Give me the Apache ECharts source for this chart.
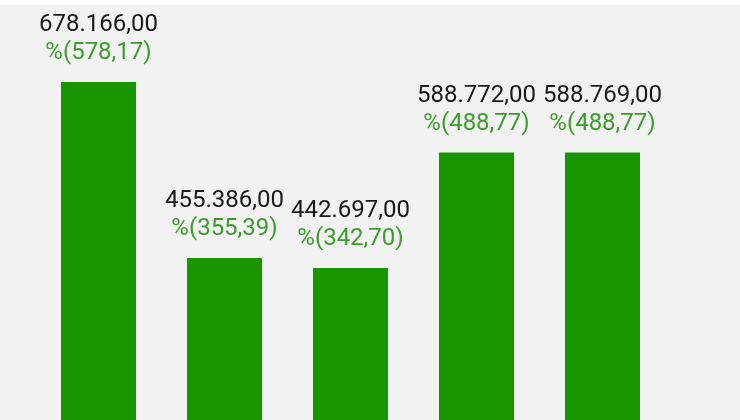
<!DOCTYPE html>
<html><head><meta charset="utf-8">
<script src="https://cdn.jsdelivr.net/npm/echarts@6/dist/echarts.min.js"></script>
<style>html,body{margin:0;padding:0;background:#f2f2f2}#c{position:absolute;left:0;top:0;width:740px;height:420px}#w{position:absolute;left:0;top:0;width:740px;height:5px;background:#fff}</style>
</head><body><div id="c"></div><div id="w"></div>
<script>
const categories = ['A','B','C','D','E'];
const values = [678166, 455386, 442697, 588772, 588769];
const percents = ['578,17','355,39','342,70','488,77','488,77'];
const valueLabels = ['678.166,00','455.386,00','442.697,00','588.772,00','588.769,00'];

const chart = echarts.init(document.getElementById('c'), null, {renderer:'canvas'});
chart.setOption({
  animation:false,
  backgroundColor:'#f2f2f2',
  grid:{left:35.5, width:630, top:0, bottom:0},
  xAxis:{type:'category', data:categories, show:false},
  yAxis:{type:'value', min:250278, max:781978, show:false},
  series:[{
    type:'bar', data:values, barWidth:75,
    itemStyle:{color:'#189600'},
    label:{show:true, position:'top', distance:15,
      formatter:p=>'{a|'+valueLabels[p.dataIndex]+'}\n{b|%('+percents[p.dataIndex]+')}',
      rich:{
        a:{fontFamily:'Roboto', fontSize:24, color:'#1a1a1a', lineHeight:28, align:'center'},
        b:{fontFamily:'Roboto', fontSize:24, color:'#3c9c2c', lineHeight:28, align:'center'}
      }}
  }]
});
</script></body></html>
